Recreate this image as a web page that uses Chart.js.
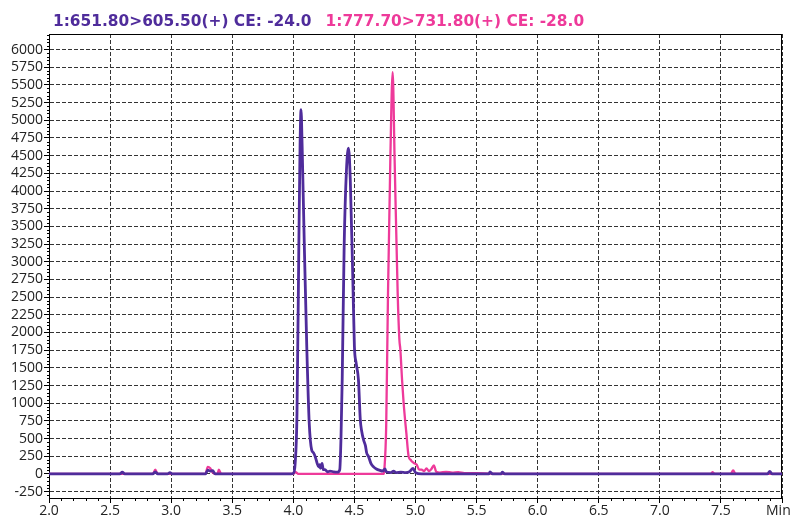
<!DOCTYPE html>
<html>
<head>
<meta charset="utf-8">
<script src="https://cdn.jsdelivr.net/npm/chart.js@4/dist/chart.umd.min.js"></script>
<style>
html,body{margin:0;padding:0;background:#fff;}
#wrap{width:790px;height:519px;}
</style>
</head>
<body>
<div id="wrap"><canvas id="c" width="790" height="519"></canvas></div>
<script>
// ---- Data ----
const seriesLabels = ['1:651.80>605.50(+) CE: -24.0', '1:777.70>731.80(+) CE: -28.0'];

const purpleTime = [2.00,2.58,2.60,2.62,2.85,2.87,2.89,2.97,2.99,3.01,3.28,3.30,3.32,3.34,3.36,3.98,4.00,4.015,4.03,4.045,4.055,4.063,4.072,4.09,4.11,4.13,4.15,4.165,4.18,4.195,4.207,4.215,4.222,4.235,4.245,4.26,4.28,4.30,4.33,4.36,4.38,4.39,4.40,4.416,4.435,4.452,4.466,4.487,4.50,4.514,4.533,4.548,4.56,4.575,4.59,4.60,4.616,4.635,4.657,4.68,4.71,4.73,4.75,4.76,4.80,4.82,4.84,4.88,4.92,4.95,4.98,5.00,5.05,5.60,5.61,5.63,5.70,5.71,5.73,7.88,7.90,7.92,8.00];
const purpleIntensity = [0,0,25,0,0,30,0,0,20,0,0,55,40,45,0,0,10,150,860,3220,4640,5150,4640,3220,1800,720,340,300,240,150,100,130,80,150,60,60,30,40,30,25,60,500,1330,3220,4300,4605,4170,2750,1800,1570,1330,770,600,480,400,300,245,150,100,70,50,40,70,30,20,40,20,25,20,30,80,20,0,0,30,0,0,25,0,0,35,0,0];

const pinkTime = [2.00,2.85,2.87,2.89,3.28,3.30,3.32,3.34,3.36,3.38,3.39,3.41,4.00,4.02,4.04,4.74,4.745,4.76,4.775,4.794,4.813,4.829,4.854,4.868,4.876,4.89,4.903,4.925,4.944,4.96,4.971,4.99,5.01,5.03,5.05,5.07,5.09,5.11,5.13,5.15,5.17,5.20,5.25,5.30,5.35,5.40,5.50,5.60,6.00,7.42,7.43,7.45,7.58,7.60,7.62,8.00];
const pinkIntensity = [0,0,60,0,0,100,80,20,0,0,60,0,0,25,0,0,60,670,2560,4450,5680,4450,2560,1900,1760,1330,1000,580,245,200,175,150,130,60,60,40,80,40,70,120,30,20,30,20,25,10,10,5,0,0,25,0,0,50,0,0];

const xTickValues = [2.0,2.5,3.0,3.5,4.0,4.5,5.0,5.5,6.0,6.5,7.0,7.5,8.0];
const xTickLabels = ['2.0','2.5','3.0','3.5','4.0','4.5','5.0','5.5','6.0','6.5','7.0','7.5','Min  '];
const yTickValues = [-250,0,250,500,750,1000,1250,1500,1750,2000,2250,2500,2750,3000,3250,3500,3750,4000,4250,4500,4750,5000,5250,5500,5750,6000];

const PURPLE = '#4f2c9b';
const PINK = '#ee3a9a';

const toPoints = (xs, ys) => xs.map((x, i) => ({x: x, y: ys[i]}));

const titlePlugin = {
  id: 'twoColorTitle',
  afterDraw(chart) {
    const ctx = chart.ctx;
    const ca = chart.chartArea;
    ctx.save();
    ctx.font = 'bold 15.4px "DejaVu Sans", Verdana, sans-serif';
    ctx.textBaseline = 'alphabetic';
    ctx.textAlign = 'left';
    const x0 = ca.left + 4;
    const y0 = 26;
    ctx.fillStyle = PURPLE;
    ctx.fillText(seriesLabels[0], x0, y0);
    const w = ctx.measureText(seriesLabels[0]).width;
    ctx.fillStyle = PINK;
    ctx.fillText(seriesLabels[1], x0 + w + 14, y0);
    ctx.restore();
  }
};

const framePlugin = {
  id: 'frameMinor',
  beforeDatasetsDraw(chart) {
    const ctx = chart.ctx;
    const ca = chart.chartArea;
    const xs = chart.scales.x, ys = chart.scales.y;
    ctx.save();
    ctx.strokeStyle = '#000';
    ctx.lineWidth = 1;
    ctx.beginPath();
    ctx.moveTo(ca.left, ca.top + 0.5);
    ctx.lineTo(ca.right, ca.top + 0.5);
    ctx.moveTo(ca.right - 0.5, ca.top);
    ctx.lineTo(ca.right - 0.5, ca.bottom);
    // minor x ticks every 0.1
    for (let k = 21; k < 80; k++) {
      if (k % 5 === 0) continue;
      const px = Math.round(xs.getPixelForValue(k / 10)) + 0.5;
      ctx.moveTo(px, ca.bottom);
      ctx.lineTo(px, ca.bottom + 3);
    }
    // minor y ticks every 50
    for (let v = -300; v <= 6200; v += 50) {
      if (v % 250 === 0) continue;
      const py = Math.round(ys.getPixelForValue(v)) + 0.5;
      ctx.moveTo(ca.left - 2, py);
      ctx.lineTo(ca.left, py);
    }
    ctx.stroke();
    ctx.restore();
  }
};

new Chart(document.getElementById('c'), {
  type: 'line',
  data: {
    datasets: [
      {
        label: seriesLabels[0],
        data: toPoints(purpleTime, purpleIntensity),
        borderColor: PURPLE,
        borderWidth: 2.8,
        pointRadius: 0,
        cubicInterpolationMode: 'monotone',
        fill: false,
        borderJoinStyle: 'round'
      },
      {
        label: seriesLabels[1],
        data: toPoints(pinkTime, pinkIntensity),
        borderColor: PINK,
        borderWidth: 2.3,
        pointRadius: 0,
        cubicInterpolationMode: 'monotone',
        fill: false,
        borderJoinStyle: 'round'
      }
    ]
  },
  options: {
    responsive: false,
    animation: false,
    devicePixelRatio: 1,
    layout: { padding: { top: 34, right: 8, left: 0, bottom: 0 } },
    plugins: {
      legend: { display: false },
      title: { display: false },
      tooltip: { enabled: false }
    },
    scales: {
      x: {
        type: 'linear',
        min: 2,
        max: 8,
        afterBuildTicks: (s) => { s.ticks = xTickValues.map(v => ({value: v})); },
        afterFit: (s) => { s.height = 21; s.paddingLeft = 0; s.paddingRight = 0; },
        ticks: {
          autoSkip: false,
          maxRotation: 0,
          padding: 0,
          color: '#222',
          font: { family: '"Open Sans", sans-serif', size: 14 },
          callback: (v) => { const i = xTickValues.indexOf(v); return i >= 0 ? xTickLabels[i] : ''; }
        },
        grid: {
          color: '#333',
          lineWidth: 1,
          tickLength: 5,
          tickColor: '#000',
          tickBorderDash: []
        },
        border: { display: true, color: '#000', width: 1, dash: [4, 2] }
      },
      y: {
        type: 'linear',
        min: -340,
        max: 6220,
        afterBuildTicks: (s) => { s.ticks = yTickValues.map(v => ({value: v})); },
        afterFit: (s) => { s.width = 49; s.paddingTop = 0; s.paddingBottom = 0; },
        ticks: {
          autoSkip: false,
          padding: 1,
          color: '#222',
          font: { family: '"Open Sans", sans-serif', size: 14 },
          callback: (v) => String(v)
        },
        grid: {
          color: '#333',
          lineWidth: 1,
          tickLength: 5,
          tickColor: '#000',
          tickBorderDash: []
        },
        border: { display: true, color: '#000', width: 1, dash: [4, 2] }
      }
    }
  },
  plugins: [framePlugin, titlePlugin]
});
</script>
</body>
</html>
